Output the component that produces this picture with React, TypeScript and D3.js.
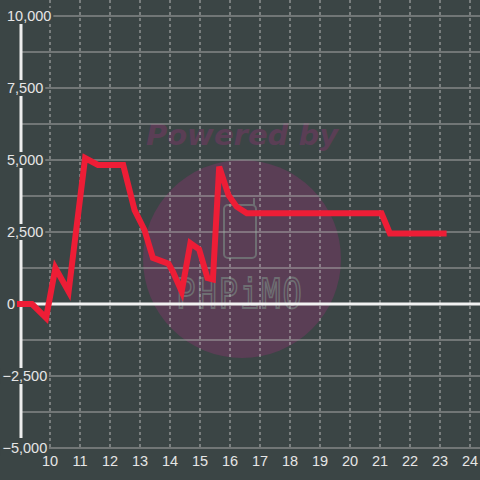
import React from "react";
import * as d3 from "d3";

const xValues = [8.9, 9.4, 9.87, 10.18, 10.62, 11.17, 11.6, 12.44, 12.82, 13.15, 13.43, 13.95, 14.1, 14.39, 14.68, 14.97, 15.25, 15.43, 15.64, 15.95, 16.22, 16.56, 21.05, 21.33, 23.22];
const yValues = [0, 0, -480, 1250, 430, 5070, 4830, 4830, 3260, 2570, 1600, 1400, 1120, 430, 2110, 1900, 900, 850, 4770, 3780, 3380, 3150, 3150, 2450, 2450];
const xTicks = [10, 11, 12, 13, 14, 15, 16, 17, 18, 19, 20, 21, 22, 23, 24];
const yTicks = [-5000, -2500, 0, 2500, 5000, 7500, 10000];
const yGrid = [-3750, -1250, 1250, 3750, 6250, 8750];

const BG = "#3b4545";

export default function App() {
  const W = 480, H = 480;
  const x = d3.scaleLinear().domain([10, 24]).range([50, 470]);
  const y = d3.scaleLinear().domain([-5000, 10000]).range([448, 16]);
  const pts = xValues.map((v, i) => [v, yValues[i]] as [number, number]);
  const line = d3.line<[number, number]>().x(d => x(d[0])).y(d => y(d[1]));
  const fmt = d3.format(",");
  const font = "'Liberation Sans', Arial, sans-serif";
  const fs = 14.5;
  const axisX = 21;
  const charW = (s: string) => {
    let w = 0;
    for (const c of s) w += c === "," ? 0.278 : c === "-" ? 0.333 : 0.556;
    return w * fs;
  };
  return (
    <svg width={W} height={H} style={{ position: "absolute", left: 0, top: 0, display: "block" }}>
      <rect x={0} y={0} width={W} height={H} fill={BG} />
      {/* watermark */}
      <circle cx={242} cy={259} r={99} fill="#5a3e55" />
      <text x={242} y={145} textAnchor="middle" fontFamily="'DejaVu Sans', sans-serif" fontWeight="bold" fontStyle="italic" fontSize={29} fill="#5a3e55">Powered by</text>
      <rect x={224} y={205} width={32} height={53} rx={4} fill="none" stroke="#6e6e72" strokeWidth={2} />
      <line x1={254} y1={205} x2={254} y2={198} stroke="#6e6e72" strokeWidth={2} />
      <text x={0} y={0} transform="translate(240,308) scale(1,1.25)" textAnchor="middle" fontFamily="'DejaVu Sans Mono', monospace" fontSize={32} fill="none" stroke="#6e6e72" strokeWidth={1.4} letterSpacing={2}>PHPiMO</text>
      {/* vertical dotted gridlines */}
      {xTicks.map(t => (
        <line key={"vx" + t} x1={x(t)} x2={x(t)} y1={0} y2={448} stroke="#b8b8b8" strokeWidth={1} strokeDasharray="3,3" />
      ))}
      {/* horizontal gridlines */}
      {yTicks.concat(yGrid).filter(t => t !== 0).map(t => (
        <line key={"hy" + t} x1={axisX} x2={W} y1={y(t)} y2={y(t)} stroke="#a8a8a8" strokeWidth={1.2} />
      ))}
      {/* y axis line */}
      <line x1={axisX} x2={axisX} y1={22} y2={438} stroke="#eeeeee" strokeWidth={3} />
      {/* zero line */}
      <line x1={axisX} x2={W} y1={y(0)} y2={y(0)} stroke="#f2f2f2" strokeWidth={3} />
      {/* y labels with background */}
      {yTicks.map(t => {
        const label = fmt(t);
        const w = charW(label);
        const left = t < 0 ? 2.5 : 7;
        return (
          <g key={"yl" + t}>
            <rect x={left - 2} y={y(t) - 8} width={w + 4} height={16} fill={BG} />
            <text x={left} y={y(t)} dy="0.35em" textAnchor="start" fontFamily={font} fontSize={fs} fill="#e6e6e6">{label}</text>
          </g>
        );
      })}
      {/* x labels */}
      {xTicks.map(t => (
        <text key={"xl" + t} x={x(t)} y={461} dy="0.35em" textAnchor="middle" fontFamily={font} fontSize={fs} fill="#e6e6e6">{t}</text>
      ))}
      {/* data line */}
      <path d={line(pts) || ""} fill="none" stroke="#ee1d36" strokeWidth={6} strokeLinejoin="miter" />
    </svg>
  );
}
